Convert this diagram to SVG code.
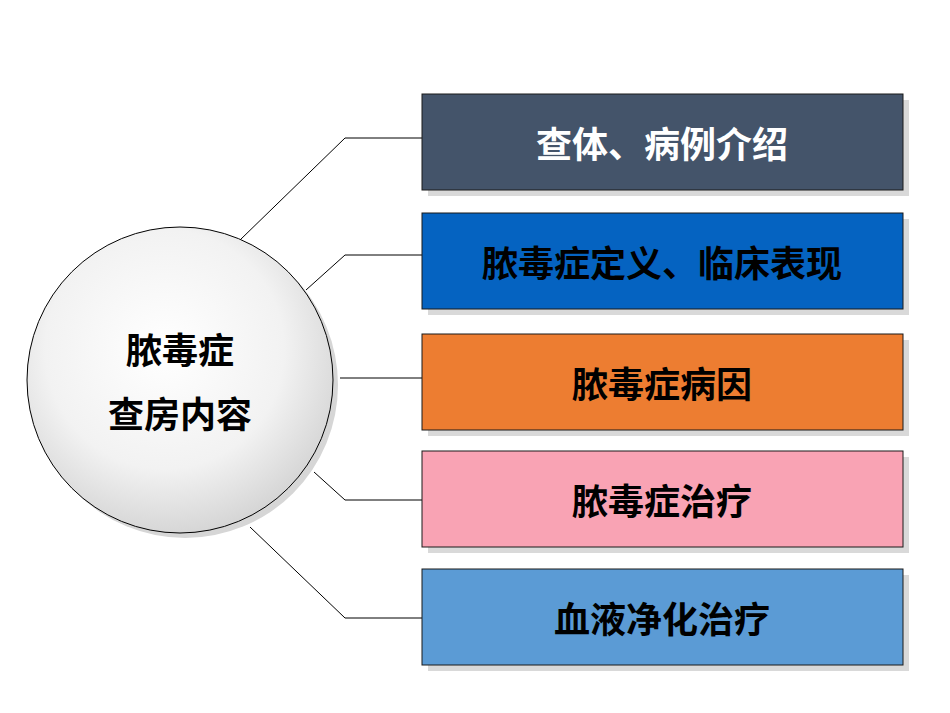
<svg xmlns="http://www.w3.org/2000/svg" width="950" height="713" viewBox="0 0 950 713">
<defs>
<radialGradient id="g" cx="0.45" cy="0.4" r="0.65">
<stop offset="0" stop-color="#ffffff"/><stop offset="0.6" stop-color="#f2f2f2"/><stop offset="1" stop-color="#d0d0d0"/>
</radialGradient>
<style>
.box{stroke:#1a1a1a;stroke-width:1}
.sh{fill:#d9d9d9}
.t{font-family:"Noto Sans CJK SC",sans-serif;font-weight:bold;font-size:36px;text-anchor:middle;dominant-baseline:central}
.c{fill:none;stroke:#000;stroke-width:1}
</style>
</defs>
<rect width="950" height="713" fill="#fff"/>
<g id="connectors">
<polyline class="c" points="240,240 345,138 422,138"/>
<polyline class="c" points="306,290 345,255 422,255"/>
<polyline class="c" points="340,378 422,378"/>
<polyline class="c" points="314,472 345,500 422,500"/>
<polyline class="c" points="250,527 345,618 422,618"/>
</g>
<g id="center">
<circle cx="185" cy="385" r="153" fill="#d6d6d6"/>
<circle cx="180" cy="380" r="153" fill="url(#g)" stroke="#000" stroke-width="1"/>
<text class="t" x="180" y="348" font-size="50" fill="#000">脓毒症</text>
<text class="t" x="180" y="412" font-size="50" fill="#000">查房内容</text>
</g>
<g id="n1"><rect class="sh" x="428" y="100" width="481" height="96"/><rect class="box" x="422" y="94" width="481" height="96" fill="#44546a"/><text class="t" x="662" y="142" fill="#fff">查体、病例介绍</text></g>
<g id="n2"><rect class="sh" x="428" y="219" width="481" height="96"/><rect class="box" x="422" y="213" width="481" height="96" fill="#0563c1"/><text class="t" x="662" y="261" fill="#000">脓毒症定义、临床表现</text></g>
<g id="n3"><rect class="sh" x="428" y="340" width="481" height="96"/><rect class="box" x="422" y="334" width="481" height="96" fill="#ed7d31"/><text class="t" x="662" y="382" fill="#000">脓毒症病因</text></g>
<g id="n4"><rect class="sh" x="428" y="457" width="481" height="96"/><rect class="box" x="422" y="451" width="481" height="96" fill="#f9a3b4"/><text class="t" x="662" y="499" fill="#000">脓毒症治疗</text></g>
<g id="n5"><rect class="sh" x="428" y="575" width="481" height="96"/><rect class="box" x="422" y="569" width="481" height="96" fill="#5b9bd5"/><text class="t" x="662" y="617" fill="#000">血液净化治疗</text></g>
</svg>
